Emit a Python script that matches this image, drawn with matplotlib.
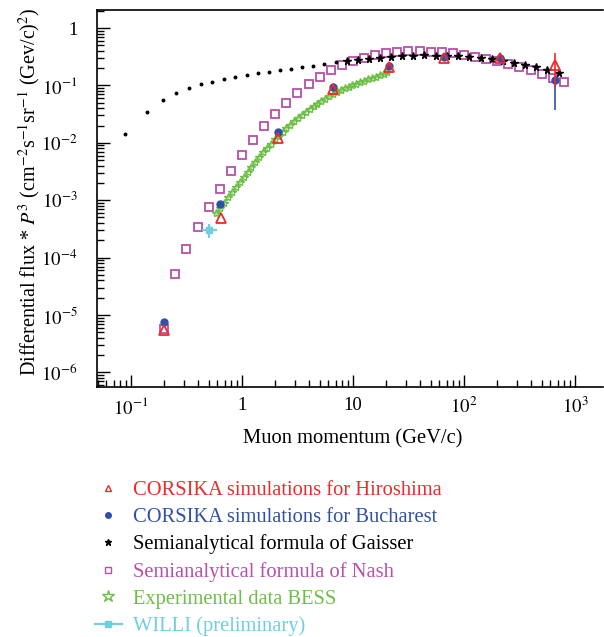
import math
import matplotlib
matplotlib.use("Agg")
import matplotlib.pyplot as plt
from matplotlib.lines import Line2D
from matplotlib.ticker import FixedLocator, LogLocator, FuncFormatter, NullFormatter

plt.rcParams['font.family'] = ['Liberation Serif', 'DejaVu Serif']
plt.rcParams['mathtext.fontset'] = 'stix'

# ---------------- data ----------------
# CORSIKA Hiroshima (red open triangles)
hiro_p = [0.2, 0.65, 2.1, 6.6, 21, 66, 210, 660]
hiro_f = [5.5e-6, 4.96e-4, 0.012, 0.0855, 0.207, 0.304, 0.304, 0.224]
hiro_lo = [0, 0, 0, 0, 0, 0, 0, 0.129]
hiro_hi = [0, 0, 0, 0, 0, 0, 0, 0.138]

# CORSIKA Bucharest (blue filled circles)
buch_p = [0.2, 0.634, 2.1, 6.6, 21, 66, 210, 660]
buch_f = [7.6e-6, 8.6e-4, 0.0154, 0.0927, 0.22, 0.316, 0.297, 0.124]
buch_lo = [0, 0, 0, 0, 0, 0, 0, 0.087]
buch_hi = [0, 0, 0, 0, 0, 0, 0, 0.02]

# Semianalytical formula of Gaisser (black)
gais_p = [0.0883, 0.138, 0.193, 0.254, 0.331, 0.428, 0.540, 0.689, 0.871, 1.10,
          1.39, 1.75, 2.20, 2.78, 3.49, 4.39, 5.51, 6.98, 8.77, 11.2,
          13.9, 17.5, 22.0, 27.8, 34.9, 43.9, 55.6, 69.9, 87.7, 112,
          141, 179, 223, 282, 356, 448, 562, 713]
gais_f = [0.0142, 0.0348, 0.0564, 0.0738, 0.0889, 0.1045, 0.116, 0.128, 0.138, 0.150,
          0.163, 0.173, 0.183, 0.195, 0.209, 0.220, 0.236, 0.252, 0.266, 0.277,
          0.288, 0.300, 0.313, 0.321, 0.329, 0.334, 0.329, 0.321, 0.325, 0.309,
          0.297, 0.285, 0.266, 0.249, 0.230, 0.207, 0.188, 0.164]
gais_star_from = 18  # index from which points are drawn as stars

# Semianalytical formula of Nash (magenta open squares)
nash_p = [0.2, 0.25, 0.316, 0.4, 0.5, 0.63, 0.79, 1.0, 1.26, 1.58,
          2.0, 2.5, 3.16, 4.0, 5.0, 6.3, 7.9, 10.0, 12.6, 15.8,
          20, 25, 31.6, 40, 50, 63, 79, 100, 126, 158,
          200, 251, 316, 398, 501, 631, 794]
nash_f = [5.7e-6, 5.2e-5, 1.43e-4, 3.37e-4, 7.5e-4, 1.58e-3, 3.19e-3, 6.05e-3, 0.0112, 0.0196,
          0.0318, 0.050, 0.0738, 0.1045, 0.140, 0.183, 0.224, 0.266, 0.300, 0.334,
          0.362, 0.382, 0.393, 0.397, 0.386, 0.386, 0.362, 0.343, 0.316, 0.288,
          0.266, 0.239, 0.212, 0.185, 0.160, 0.136, 0.116]

# Experimental data BESS (green)
bess_p = [0.589, 0.638, 0.692, 0.750, 0.813, 0.881, 0.955, 1.035, 1.122, 1.216,
          1.318, 1.429, 1.549, 1.679, 1.820, 1.972, 2.138, 2.317, 2.512, 2.723,
          2.951, 3.199, 3.467, 3.758, 4.074, 4.416, 4.786, 5.188, 5.623, 6.095,
          6.607, 7.161, 7.762, 8.414, 9.120, 9.886, 10.72, 11.61, 12.59, 13.65,
          14.79, 16.03, 17.38, 18.84, 20.42]
bess_f = [5.89e-4, 7.31e-4, 9.08e-4, 1.130e-3, 1.393e-3, 1.690e-3, 2.051e-3, 2.506e-3, 3.090e-3, 3.811e-3,
          4.656e-3, 5.649e-3, 6.855e-3, 8.166e-3, 9.68e-3, 0.01146, 0.01340, 0.01560, 0.01820, 0.02084,
          0.02393, 0.02735, 0.03090, 0.03483, 0.03917, 0.04345, 0.04831, 0.05346, 0.05888, 0.06486,
          0.07079, 0.07674, 0.08318, 0.08913, 0.09506, 0.1014, 0.1074, 0.1135, 0.1202, 0.1271,
          0.1346, 0.1426, 0.1514, 0.1607, 0.1706]

# WILLI (preliminary)
willi_p = [0.501]
willi_f = [3.03e-4]
willi_plo = [0.068]
willi_phi = [0.097]
willi_flo = [0.81e-4]
willi_fhi = [0.77e-4]

labels = ["CORSIKA simulations for Hiroshima",
          "CORSIKA simulations for Bucharest",
          "Semianalytical formula of Gaisser",
          "Semianalytical formula of Nash",
          "Experimental data BESS",
          "WILLI (preliminary)"]

c_red = "#ee2a2a"
c_blue = "#3050a8"
c_black = "#000000"
c_mag = "#b84fa8"
c_green = "#6cbf45"
c_cyan = "#6fcfdc"
colors = [c_red, c_blue, c_black, c_mag, c_green, c_cyan]

# ---------------- figure ----------------
W, H = 604, 637
fig = plt.figure(figsize=(W / 100, H / 100), dpi=100)
ax = fig.add_axes([97 / W, (H - 387) / H, (603 - 97) / W, (387 - 10) / H])

ax.set_xscale('log')
ax.set_yscale('log')
ax.set_xlim(0.0494, 1786)
ax.set_ylim(5.57e-7, 2.06)

# Nash
ax.plot(nash_p, nash_f, ls='none', marker='s', ms=6.4, mfc='none', mec=c_mag, mew=1.3, zorder=2)
# BESS
ax.plot(bess_p, bess_f, ls='-', color=c_green, lw=2.0, alpha=0.6, zorder=2.4)
ax.plot(bess_p, bess_f, ls='none', marker='*', ms=6, mfc='none', mec=c_green, mew=1.0, zorder=2.5)
# Gaisser
ax.plot(gais_p[:gais_star_from], gais_f[:gais_star_from], ls='none', marker='o', ms=1.8,
        color=c_black, zorder=3)
ax.plot(gais_p[gais_star_from:], gais_f[gais_star_from:], ls='none', marker='*', ms=5.5,
        color=c_black, zorder=3)
# Bucharest
ax.errorbar(buch_p, buch_f, yerr=[buch_lo, buch_hi], fmt='o', ms=5, color=c_blue,
            ecolor=c_blue, elinewidth=1.2, capsize=0, zorder=4)
# Hiroshima
ax.errorbar(hiro_p, hiro_f, yerr=[hiro_lo, hiro_hi], fmt='^', ms=6.5, mfc='none', mec=c_red,
            mew=1.3, ecolor=c_red, elinewidth=1.2, capsize=0, zorder=5)
# WILLI
ax.errorbar(willi_p, willi_f, xerr=[willi_plo, willi_phi], yerr=[willi_flo, willi_fhi],
            fmt='s', ms=5, color=c_cyan, ecolor=c_cyan, elinewidth=1.6, capsize=0, zorder=4)

# ---------------- axes styling ----------------
for s in ['left', 'bottom', 'top']:
    ax.spines[s].set_linewidth(1.2)
ax.spines['right'].set_visible(False)

def yfmt(v, pos):
    e = int(round(math.log10(v)))
    return "1" if e == 0 else r"$10^{%d}$" % e

def xfmt(v, pos):
    e = int(round(math.log10(v)))
    if e == 0:
        return "1"
    if e == 1:
        return "10"
    return r"$10^{%d}$" % e

ax.yaxis.set_major_locator(FixedLocator([1e-6, 1e-5, 1e-4, 1e-3, 1e-2, 1e-1, 1]))
ax.yaxis.set_minor_locator(LogLocator(base=10, subs=range(2, 10), numticks=20))
ax.yaxis.set_major_formatter(FuncFormatter(yfmt))
ax.yaxis.set_minor_formatter(NullFormatter())
ax.xaxis.set_major_locator(FixedLocator([0.1, 1, 10, 100, 1000]))
ax.xaxis.set_minor_locator(LogLocator(base=10, subs=range(2, 10), numticks=20))
ax.xaxis.set_major_formatter(FuncFormatter(xfmt))
ax.xaxis.set_minor_formatter(NullFormatter())

ax.tick_params(which='both', direction='in', top=False, right=False, width=1.0)
ax.tick_params(which='major', length=9, labelsize=13.5)
ax.tick_params(which='minor', length=5)
ax.tick_params(axis='y', which='major', pad=14)
ax.tick_params(axis='x', which='major', pad=7)

ax.set_xlabel("Muon momentum (GeV/c)", fontsize=14.8)
ax.xaxis.set_label_coords(0.505, -0.111)
ax.set_ylabel(r"Differential flux * $P^3$ (cm$^{-2}$s$^{-1}$sr$^{-1}$ (Gev/c)$^2$)", fontsize=14.5)
ax.yaxis.set_label_coords(-0.109, 0.517)

# ---------------- legend ----------------
handles = [
    Line2D([], [], ls='none', marker='^', ms=5, mfc='none', mec=c_red, mew=1.0),
    Line2D([], [], ls='none', marker='o', ms=4, color=c_blue),
    Line2D([], [], ls='none', marker='*', ms=5, color=c_black),
    Line2D([], [], ls='none', marker='s', ms=5, mfc='none', mec=c_mag, mew=1.0),
    Line2D([], [], ls='none', marker='*', ms=9, mfc='none', mec=c_green, mew=1.0),
    Line2D([], [], ls='-', lw=1.6, marker='s', ms=4, color=c_cyan),
]
leg = fig.legend(handles, labels, loc='upper left', bbox_to_anchor=(95 / W, 1 - 481 / H),
                 frameon=False, fontsize=14.8, handlelength=1.3, handletextpad=0.55,
                 labelspacing=0.36, borderpad=0, borderaxespad=0)
for t, c in zip(leg.get_texts(), colors):
    t.set_color(c)

fig.savefig("out.png", dpi=100)
